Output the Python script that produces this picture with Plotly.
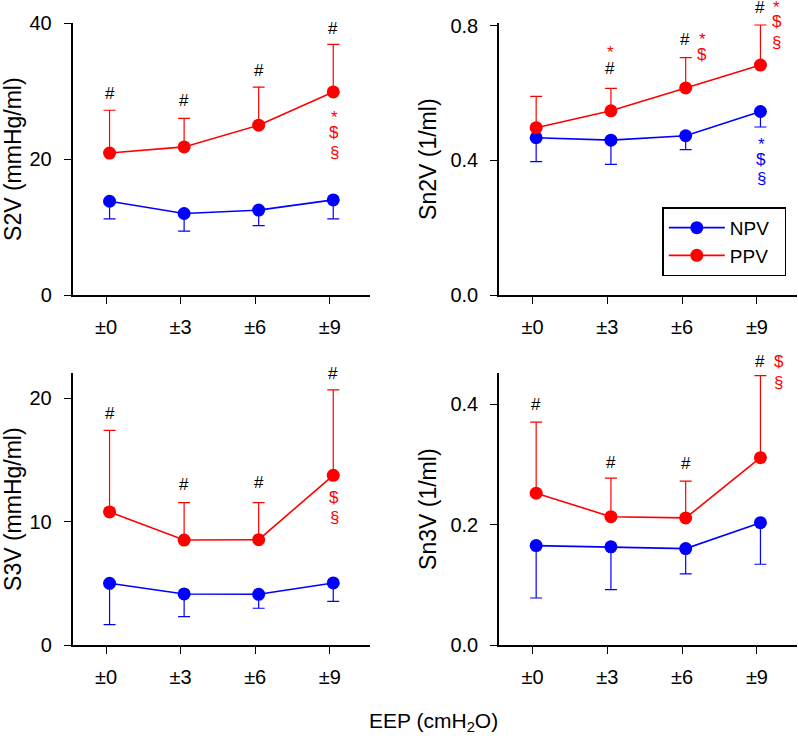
import plotly.graph_objects as go

# ---------------- data ----------------
categories = ["±0", "±3", "±6", "±9"]
cat_index = [0, 1, 2, 3]

# S2V (mmHg/ml)
s2v_npv_mean = [13.8, 12.0, 12.5, 14.0]
s2v_npv_sd = [2.6, 2.6, 2.3, 2.8]
s2v_ppv_mean = [20.9, 21.8, 25.0, 29.9]
s2v_ppv_sd = [6.3, 4.2, 5.6, 7.0]

# Sn2V (1/ml)
sn2v_npv_mean = [0.467, 0.460, 0.473, 0.545]
sn2v_npv_sd = [0.071, 0.072, 0.041, 0.046]
sn2v_ppv_mean = [0.497, 0.547, 0.615, 0.683]
sn2v_ppv_sd = [0.093, 0.067, 0.090, 0.119]

# S3V (mmHg/ml)
s3v_npv_mean = [5.00, 4.14, 4.11, 5.03]
s3v_npv_sd = [3.35, 1.84, 1.13, 1.49]
s3v_ppv_mean = [10.79, 8.51, 8.54, 13.76]
s3v_ppv_sd = [6.62, 3.03, 3.00, 6.92]

# Sn3V (1/ml)
sn3v_npv_mean = [0.165, 0.163, 0.160, 0.203]
sn3v_npv_sd = [0.087, 0.071, 0.042, 0.069]
sn3v_ppv_mean = [0.252, 0.213, 0.211, 0.311]
sn3v_ppv_sd = [0.118, 0.064, 0.061, 0.136]

series_names = ["NPV", "PPV"]
y_titles = ["S2V (mmHg/ml)", "Sn2V (1/ml)", "S3V (mmHg/ml)", "Sn3V (1/ml)"]
y_ticks = [[0, 20, 40], [0.0, 0.4, 0.8], [0, 10, 20], [0.0, 0.2, 0.4]]
y_ticktext = [["0", "20", "40"], ["0.0", "0.4", "0.8"], ["0", "10", "20"], ["0.0", "0.2", "0.4"]]
y_ranges = [[0, 40], [0, 0.807], [0, 22.03], [0, 0.451]]
x_title = "EEP (cmH<sub>2</sub>O)"

# significance symbols: (panel, category, reference, text, color, dx px, dy px)
# reference 'top' = PPV mean+SD, 'ppv' = PPV mean, 'low' = NPV mean-SD
BLACK, RED, BLUE = "#000000", "#FF0000", "#0000FF"
symbols = [
    (0, 0, "top", "#", BLACK, 0, 16.5), (0, 1, "top", "#", BLACK, 0, 17.5),
    (0, 2, "top", "#", BLACK, 0, 16.7), (0, 3, "top", "#", BLACK, 0, 16.3),
    (0, 3, "ppv", "*", RED, 1, -25.6), (0, 3, "ppv", "$", RED, 1, -40.5), (0, 3, "ppv", "§", RED, 1, -61),
    (1, 1, "top", "#", BLACK, -1.4, 19.3), (1, 1, "top", "*", RED, 0, 36),
    (1, 2, "top", "#", BLACK, -0.6, 18.4), (1, 2, "top", "*", RED, 16.7, 17.7), (1, 2, "top", "$", RED, 16.7, 3.4),
    (1, 3, "top", "#", BLACK, 0, 17.7), (1, 3, "top", "*", RED, 16.5, 17.0),
    (1, 3, "top", "$", RED, 16.5, 3.3), (1, 3, "top", "§", RED, 16.5, -17.6),
    (1, 3, "low", "*", BLUE, 1, -17), (1, 3, "low", "$", BLUE, 1, -32), (1, 3, "low", "§", BLUE, 1, -51.6),
    (2, 0, "top", "#", BLACK, 0, 16.3), (2, 1, "top", "#", BLACK, 0, 17.7),
    (2, 2, "top", "#", BLACK, 0, 20), (2, 3, "top", "#", BLACK, 0, 16.7),
    (2, 3, "ppv", "$", RED, 1, -22), (2, 3, "ppv", "§", RED, 1, -42.3),
    (3, 0, "top", "#", BLACK, 0, 17.3), (3, 1, "top", "#", BLACK, 0, 15.7),
    (3, 2, "top", "#", BLACK, 0, 17.4), (3, 3, "top", "#", BLACK, 0, 14.6),
    (3, 3, "top", "$", RED, 18.3, 14), (3, 3, "top", "§", RED, 18.3, -6.3),
]

panels = [
    (s2v_npv_mean, s2v_npv_sd, s2v_ppv_mean, s2v_ppv_sd),
    (sn2v_npv_mean, sn2v_npv_sd, sn2v_ppv_mean, sn2v_ppv_sd),
    (s3v_npv_mean, s3v_npv_sd, s3v_ppv_mean, s3v_ppv_sd),
    (sn3v_npv_mean, sn3v_npv_sd, sn3v_ppv_mean, sn3v_ppv_sd),
]

# ---------------- layout geometry ----------------
W, H = 798, 739
FONT = "Arial, 'Liberation Sans', Helvetica, sans-serif"
x_dom_px = [(72.5, 370.0), (499.0, 797.3), (72.5, 370.0), (499.0, 797.3)]
y_dom_px = [(23.3, 295.0), (23.3, 295.0), (373.3, 645.0), (373.3, 645.0)]
x_range = [-0.45, 3.54]
x_shift = 0.047
legend_pad = "\u00a0\u00a0"  # right padding inside the legend box

fig = go.Figure()
layout = dict(
    width=W, height=H, margin=dict(l=0, r=0, t=0, b=0), autosize=False,
    paper_bgcolor="white", plot_bgcolor="white",
    font=dict(family=FONT, size=20, color="black"),
    showlegend=True,
    legend=dict(x=662.3 / W, y=1 - 207.3 / H, xanchor="left", yanchor="top",
                bordercolor="black", borderwidth=1.5, bgcolor="white",
                font=dict(family=FONT, size=19, color="black"),
                itemwidth=56, tracegroupgap=0),
)

annotations = []
for p, (nm, nsd, pm, psd) in enumerate(panels):
    ax = "" if p == 0 else str(p + 1)
    xs = [i + x_shift for i in cat_index]
    fig.add_trace(go.Scatter(
        x=xs, y=nm, mode="lines+markers", name=series_names[0] + legend_pad,
        line=dict(color=BLUE, width=1.6), marker=dict(color=BLUE, size=13),
        error_y=dict(type="data", symmetric=False, array=[0] * 4, arrayminus=nsd,
                     color=BLUE, thickness=1.2, width=6),
        xaxis="x" + ax, yaxis="y" + ax, showlegend=(p == 1), legendrank=1,
    ))
    fig.add_trace(go.Scatter(
        x=xs, y=pm, mode="lines+markers", name=series_names[1] + legend_pad,
        line=dict(color=RED, width=1.6), marker=dict(color=RED, size=13),
        error_y=dict(type="data", symmetric=False, array=psd, arrayminus=[0] * 4,
                     color=RED, thickness=1.2, width=6),
        xaxis="x" + ax, yaxis="y" + ax, showlegend=(p == 1), legendrank=2,
    ))
    x0, x1 = x_dom_px[p]
    y0, y1 = y_dom_px[p]
    layout["xaxis" + ax] = dict(
        domain=[x0 / W, x1 / W], range=x_range, anchor="y" + ax,
        tickvals=cat_index, ticktext=categories, ticks="outside", ticklen=7,
        tickwidth=1.3, tickcolor="black", showline=True, linecolor="black",
        linewidth=1.5, showgrid=False, zeroline=False, fixedrange=True,
        tickfont=dict(size=20), ticklabelstandoff=6,
    )
    layout["yaxis" + ax] = dict(
        domain=[1 - y1 / H, 1 - y0 / H], range=y_ranges[p], anchor="x" + ax,
        tickvals=y_ticks[p], ticktext=y_ticktext[p], ticks="outside", ticklen=7,
        tickwidth=1.3, tickcolor="black", showline=True, linecolor="black",
        linewidth=1.5, showgrid=False, zeroline=False, fixedrange=True,
        tickfont=dict(size=20), ticklabelstandoff=8,
        title=dict(text=y_titles[p], font=dict(size=23), standoff=7),
        automargin=False,
    )

for (p, ci, ref, txt, col, dx, dy) in symbols:
    ax = "" if p == 0 else str(p + 1)
    nm, nsd, pm, psd = panels[p]
    if ref == "top":
        yv = pm[ci] + psd[ci]
    elif ref == "ppv":
        yv = pm[ci]
    else:
        yv = nm[ci] - nsd[ci]
    annotations.append(dict(
        x=cat_index[ci] + x_shift, y=yv, xref="x" + ax, yref="y" + ax,
        text=txt, showarrow=False, xanchor="center", yanchor="middle",
        xshift=dx, yshift=dy, font=dict(size=17, color=col, family=FONT),
    ))

annotations.append(dict(
    x=433 / W, y=1 - 722 / H, xref="paper", yref="paper", text=x_title,
    showarrow=False, xanchor="center", yanchor="middle",
    font=dict(size=21, color="black", family=FONT),
))
layout["annotations"] = annotations
fig.update_layout(**layout)
fig.write_html("out.html")
